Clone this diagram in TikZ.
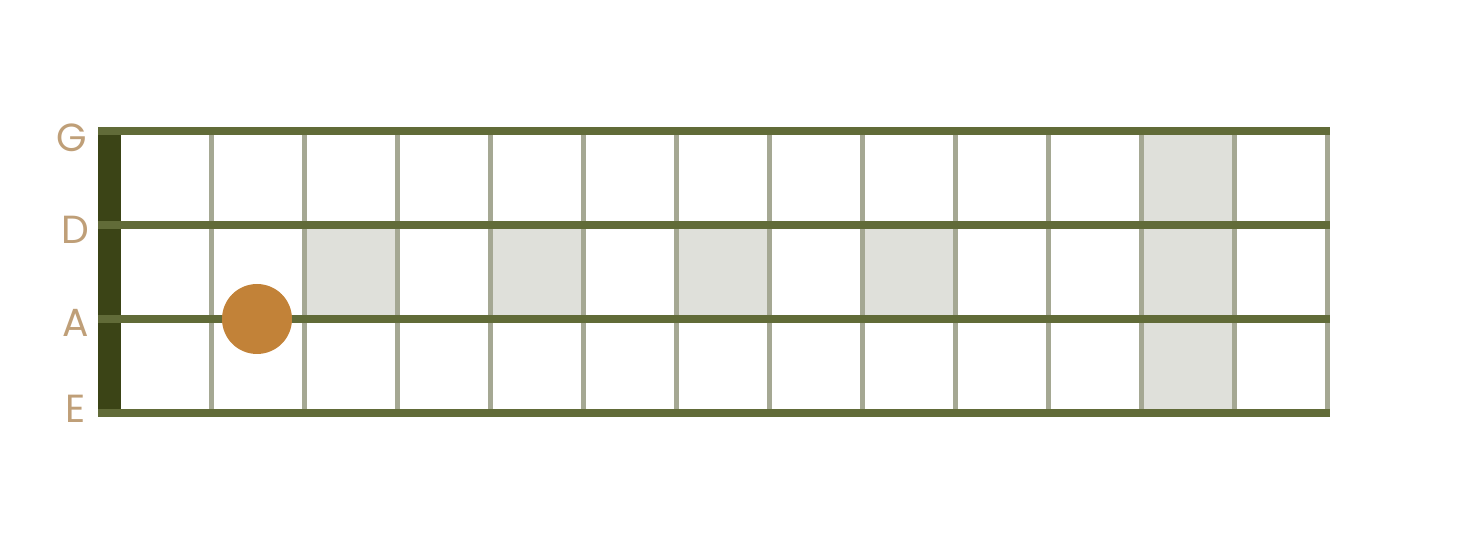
\documentclass[tikz,border=0pt]{standalone}
\usepackage{fontspec}
\setsansfont{Poppins}
\definecolor{stringcol}{HTML}{616B38}
\definecolor{nutcol}{HTML}{3B4416}
\definecolor{fretcol}{HTML}{A5A893}
\definecolor{inlaycol}{HTML}{DFE0DA}
\definecolor{dotcol}{HTML}{C28238}
\definecolor{notecol}{HTML}{BF9F78}
\begin{document}
\begin{tikzpicture}[x=0.5pt,y=-0.5pt,
		stringline/.style={draw=stringcol,line width=4pt},
		fretline/.style={draw=fretcol,line width=2.25pt},
		inlay/.style={fill=inlaycol},
		notename/.style={text=notecol,inner sep=0pt,
			font=\sffamily\fontsize{19.6}{20}\selectfont}]
		\useasboundingbox (0,0) rectangle (1469,549);
		% inlays
		\foreach \f in {3,5,7,9}
		\fill[inlay] ({118.7+93*(\f-1)},225.5) rectangle ({118.7+93*\f},319);
		\fill[inlay] (1141.7,131.5) rectangle (1234.7,413);
		% frets
		\foreach \f in {1,...,13}
		\draw[fretline] ({118.7+93*\f},131.5) -- ++(0,281.5);
		% nut
		\fill[nutcol] (98,128) rectangle (121,417);
		% strings and names
		\foreach \y/\s/\lx/\ly in {131.5/G/71.7/137.6,225.5/D/75/230,319/A/75.5/322.5,413/E/76/408.7}
		{
			\draw[stringline] (98,\y) -- (1330,\y);
			\node[notename] (name\s) at (\lx,\ly) {\s};
		}
		% finger
		\fill[dotcol] (257,319) circle (17.5pt);
\end{tikzpicture}
\end{document}
